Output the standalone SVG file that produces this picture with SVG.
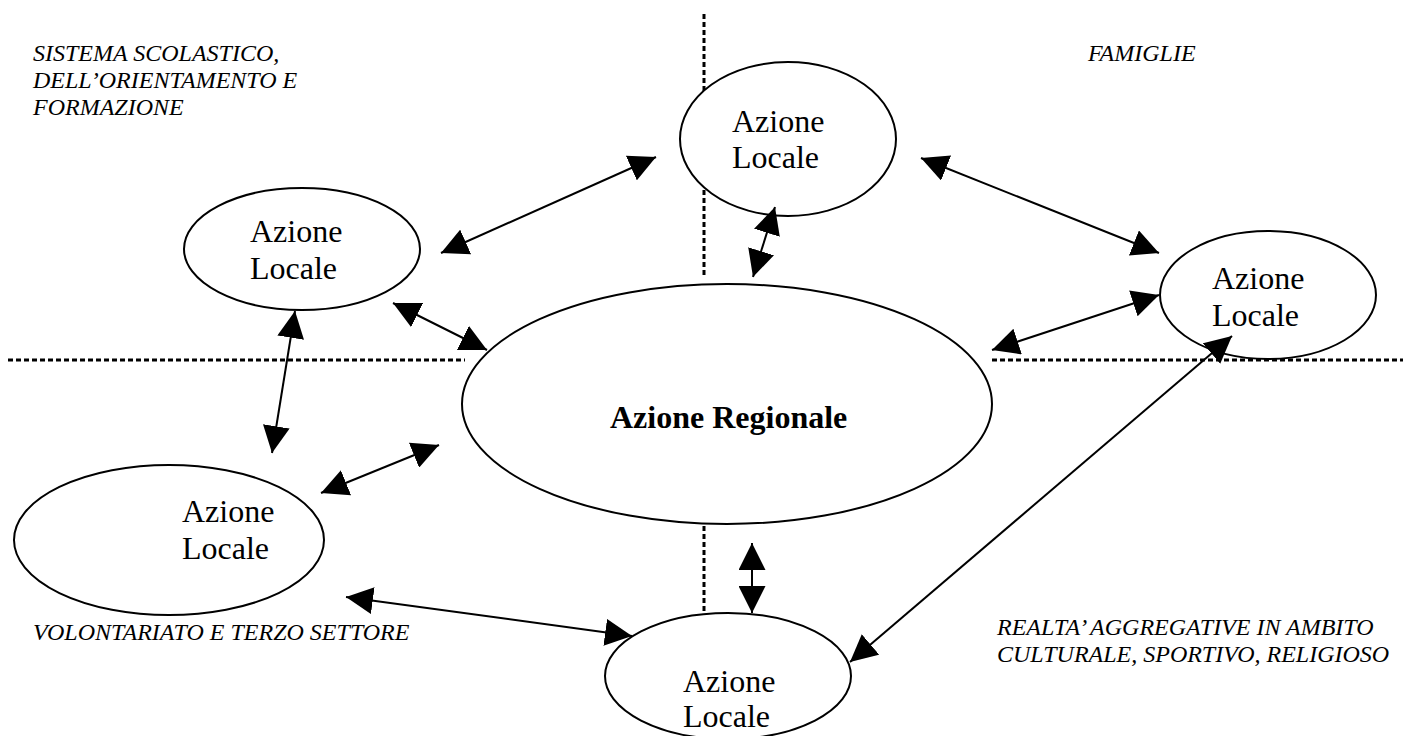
<svg xmlns="http://www.w3.org/2000/svg" width="1403" height="736" viewBox="0 0 1403 736">
<defs>
<style>
.bg{fill:#fff}
.node{fill:#fff;stroke:#000;stroke-width:2}
.lbl{font-family:"Liberation Serif","Times New Roman",serif;font-size:32px;fill:#000}
.bold{font-weight:bold}
.area{font-family:"Liberation Serif","Times New Roman",serif;font-size:24px;font-style:italic;fill:#000}
.dot{stroke:#000;stroke-width:3;stroke-dasharray:5 3;fill:none}
.conn{stroke:#000;stroke-width:2;fill:none;marker-start:url(#ah);marker-end:url(#ah)}
</style>
<marker id="ah" viewBox="0 0 27 27" refX="27" refY="13.5" markerWidth="27" markerHeight="27" markerUnits="userSpaceOnUse" orient="auto-start-reverse">
<path d="M0,0 L27,13.5 L0,27 z" fill="#000"/>
</marker>
</defs>
<rect class="bg" x="0" y="0" width="1403" height="736"/>
<g id="dividers">
<line class="dot" x1="8" y1="360" x2="465" y2="360"/>
<line class="dot" x1="992" y1="360" x2="1403" y2="360"/>
<line class="dot" x1="704" y1="14" x2="704" y2="277"/>
<line class="dot" x1="704" y1="518" x2="704" y2="614"/>
</g>
<g id="areas">
<text class="area" x="33" y="61">SISTEMA SCOLASTICO,</text>
<text class="area" x="33" y="88">DELL’ORIENTAMENTO E</text>
<text class="area" x="33" y="115">FORMAZIONE</text>
<text class="area" x="1088" y="61">FAMIGLIE</text>
<text class="area" x="33" y="640">VOLONTARIATO E TERZO SETTORE</text>
<text class="area" x="997" y="635">REALTA’ AGGREGATIVE IN AMBITO</text>
<text class="area" x="997" y="662">CULTURALE, SPORTIVO, RELIGIOSO</text>
</g>
<g id="regional">
<ellipse class="node" cx="727" cy="404" rx="265" ry="120"/>
<text class="lbl bold" x="610" y="428">Azione Regionale</text>
</g>
<g id="local-top">
<ellipse class="node" cx="788" cy="139" rx="108" ry="77"/>
<text class="lbl" x="732" y="132">Azione</text>
<text class="lbl" x="732" y="168">Locale</text>
</g>
<g id="local-upper-left">
<ellipse class="node" cx="302" cy="249" rx="118" ry="61"/>
<text class="lbl" x="250" y="242">Azione</text>
<text class="lbl" x="250" y="279">Locale</text>
</g>
<g id="local-right">
<ellipse class="node" cx="1268" cy="295" rx="108" ry="64"/>
<text class="lbl" x="1212" y="289">Azione</text>
<text class="lbl" x="1212" y="326">Locale</text>
</g>
<g id="local-lower-left">
<ellipse class="node" cx="169" cy="540" rx="155" ry="75"/>
<text class="lbl" x="182" y="522">Azione</text>
<text class="lbl" x="182" y="559">Locale</text>
</g>
<g id="local-bottom">
<ellipse class="node" cx="728" cy="676" rx="123" ry="63"/>
<text class="lbl" x="683" y="692">Azione</text>
<text class="lbl" x="683" y="727">Locale</text>
</g>
<g id="connectors">
<line class="conn" x1="441" y1="253" x2="656" y2="157"/>
<line class="conn" x1="775" y1="207" x2="753" y2="277"/>
<line class="conn" x1="921" y1="158" x2="1159" y2="253"/>
<line class="conn" x1="992" y1="350" x2="1159" y2="295"/>
<line class="conn" x1="1232" y1="336" x2="850" y2="662"/>
<line class="conn" x1="393" y1="303" x2="487" y2="350"/>
<line class="conn" x1="295" y1="311" x2="272" y2="453"/>
<line class="conn" x1="439" y1="445" x2="321" y2="493"/>
<line class="conn" x1="346" y1="597" x2="632" y2="636"/>
<line class="conn" x1="752" y1="543" x2="752" y2="613"/>
</g>
</svg>
